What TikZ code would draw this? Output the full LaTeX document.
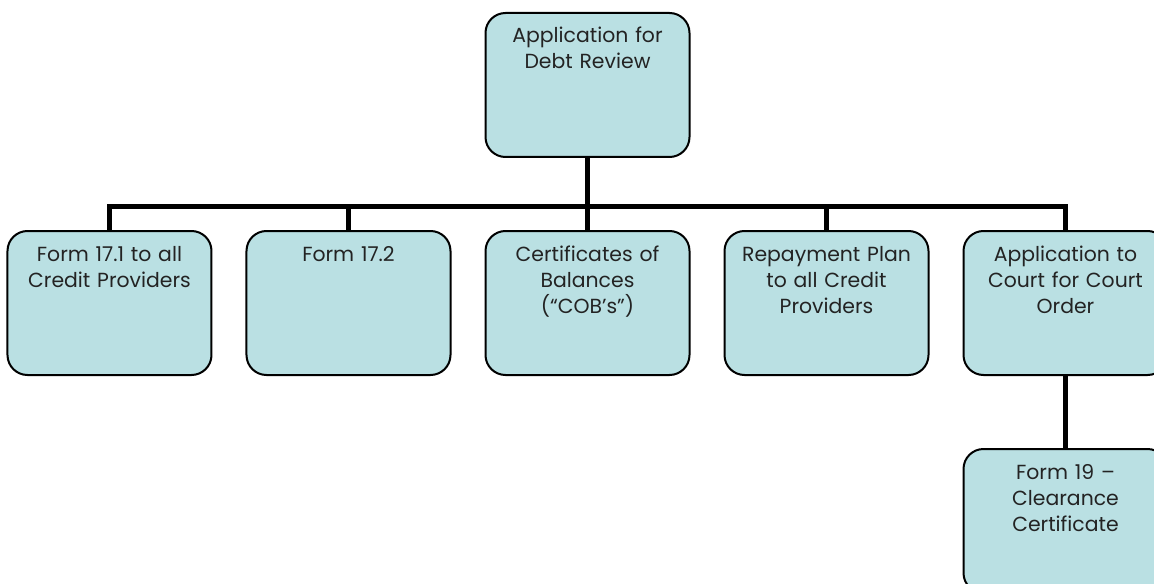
\documentclass[tikz,border=0pt]{standalone}
\usepackage{fontspec}
\setmainfont{Poppins}
\usepackage{tikz}
\usetikzlibrary{positioning,calc}
\usepackage{xcolor}
\definecolor{boxteal}{RGB}{186,224,227}
\definecolor{txtgray}{RGB}{35,35,35}
\tikzset{
  bx/.style={rectangle,rounded corners=10pt,draw=black,line width=1pt,
             fill=boxteal,text=txtgray,align=center,
             text width=94pt,inner xsep=4pt,inner ysep=0pt,
             text height=15pt,text depth=57pt,
             font=\fontsize{10.2}{13}\selectfont},
  cn/.style={line width=2.5pt,black},
}

\begin{document}
\begin{tikzpicture}
    \useasboundingbox (-293.75pt,42.5pt) rectangle (283.25pt,-249pt);
    % top of the tree
    \node[bx] (app) at (0,0) {Application for\\Debt Review};
    % second row
    \node[bx,below=36pt of app] (cob) {Certificates of\\Balances\\(“COB’s”)};
    \node[bx,left=16.5pt of cob] (f172) {Form 17.2};
    \node[bx,left=16.5pt of f172] (f171) {Form 17.1 to all\\Credit Providers};
    \node[bx,right=16.5pt of cob] (plan) {Repayment Plan\\to all Credit\\Providers};
    \node[bx,right=16.5pt of plan] (court) {Application to\\Court for Court\\Order};
    % last one
    \node[bx,below=36pt of court] (clear) {Form 19 –\\Clearance\\Certificate};
    % connectors
    \foreach \n in {f171,f172,cob,plan,court}
      \draw[cn] (app.south) -- ++(0,-24.25pt) -| (\n.north);
    \draw[cn] (court.south) -- (clear.north);
  \end{tikzpicture}
\end{document}
